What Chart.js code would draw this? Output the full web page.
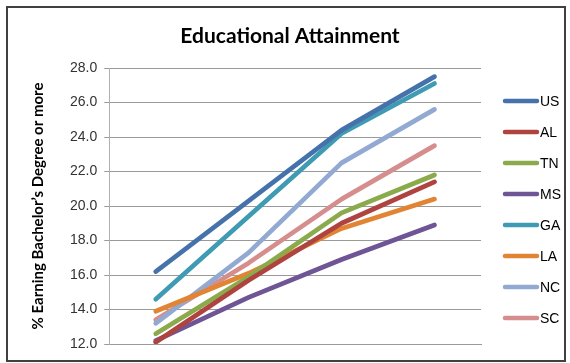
<!DOCTYPE html>
<html><head><meta charset="utf-8">
<script src="https://cdn.jsdelivr.net/npm/chart.js@4.4.1/dist/chart.umd.min.js"></script>
<style>html,body{margin:0;padding:0;background:#fff}#wrap{width:570px;height:363px;position:relative}</style>
</head><body><div id="wrap"><canvas id="c" width="570" height="363"></canvas></div>
<script>
const chartTitle = 'Educational Attainment';
const categories = ['1', '2', '3', '4'];
const US = [16.2, 20.3, 24.4, 27.5];
const AL = [12.1, 15.7, 19.0, 21.4];
const TN = [12.6, 15.9, 19.6, 21.8];
const MS = [12.2, 14.7, 16.9, 18.9];
const GA = [14.6, 19.4, 24.2, 27.1];
const LA = [13.9, 16.1, 18.7, 20.4];
const NC = [13.2, 17.3, 22.5, 25.6];
const SC = [13.4, 16.7, 20.4, 23.5];
const seriesNames = ['US', 'AL', 'TN', 'MS', 'GA', 'LA', 'NC', 'SC'];
const seriesData = [US, AL, TN, MS, GA, LA, NC, SC];
const colors = ['#4572AA', '#AE433F', '#8BAA4B', '#6F5595', '#3F9BB3', '#E18534', '#92AAD2', '#D58E8D'];

const decor = {
  id: 'decor',
  afterDraw(chart) {
    const ctx = chart.ctx;
    ctx.save();
    ctx.strokeStyle = '#404040';
    ctx.lineWidth = 2;
    ctx.strokeRect(7, 7, 558, 354);
    ctx.fillStyle = '#000';
    ctx.font = 'bold 21px Lato';
    ctx.textAlign = 'center';
    ctx.textBaseline = 'middle';
    ctx.fillText(chartTitle, 290, 36);
    ctx.restore();
  }
};

const sideLegend = {
  id: 'sideLegend',
  afterDraw(chart) {
    const ctx = chart.ctx;
    ctx.save();
    ctx.font = '14px "Liberation Sans"';
    ctx.textBaseline = 'middle';
    ctx.textAlign = 'left';
    chart.data.datasets.forEach((ds, i) => {
      const y = 101 + i * 31;
      ctx.strokeStyle = ds.borderColor;
      ctx.lineWidth = 4.5;
      ctx.lineCap = 'round';
      ctx.beginPath();
      ctx.moveTo(505, y);
      ctx.lineTo(537, y);
      ctx.stroke();
      ctx.fillStyle = '#000';
      ctx.fillText(ds.label, 540, y + 1);
    });
    ctx.restore();
  }
};

new Chart(document.getElementById('c'), {
  type: 'line',
  data: {
    labels: categories,
    datasets: seriesNames.map((n, i) => ({
      label: n, data: seriesData[i], borderColor: colors[i], backgroundColor: colors[i],
      borderWidth: 4.7, pointRadius: 0, borderCapStyle: 'round', borderJoinStyle: 'round', tension: 0
    }))
  },
  options: {
    responsive: false, animation: false,
    layout: { padding: { left: 29, right: 89, top: 68, bottom: 19 } },
    plugins: {
      title: { display: false },
      legend: { display: false },
      tooltip: { enabled: false }
    },
    scales: {
      x: { offset: true, ticks: { display: false },
        grid: { display: false, drawTicks: false },
        border: { display: true, color: '#9a9a9a', width: 1 } },
      y: { min: 12, max: 28,
        ticks: { stepSize: 2, color: '#333', font: { family: 'Liberation Sans', size: 14 }, padding: 7,
          callback: v => Number(v).toFixed(1) },
        grid: { color: '#9a9a9a', tickLength: 5, drawTicks: true },
        border: { display: true, color: '#b0b0b0' },
        title: { display: true, text: '% Earning Bachelor\u2019s Degree or more', color: '#000',
          font: { family: 'Lato', size: 15, weight: 'bold' }, padding: { top: 0, bottom: 16 } } }
    }
  },
  plugins: [decor, sideLegend]
});
</script></body></html>
